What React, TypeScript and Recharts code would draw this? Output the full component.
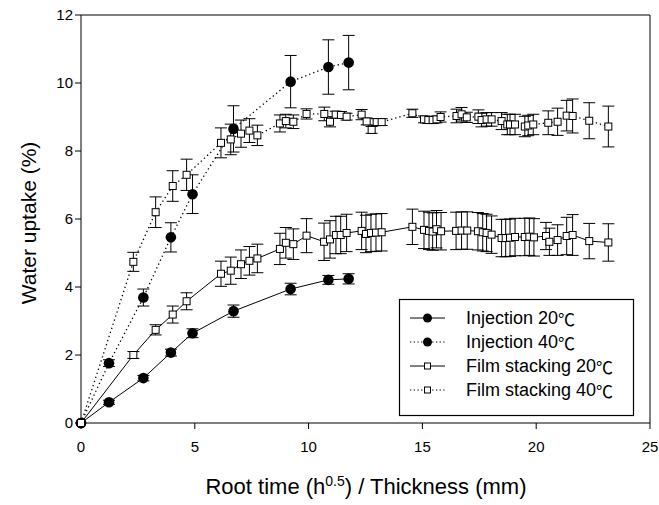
import React from 'react';
import { ScatterChart, Scatter, XAxis, YAxis, ErrorBar, ReferenceLine } from 'recharts';

const FONT = "'Liberation Sans', Arial, 'Noto Sans CJK KR', sans-serif";
const CJK = "'Noto Sans CJK KR', 'Liberation Sans', sans-serif";

const seriesNames = ['Injection 20℃', 'Injection 40℃', 'Film stacking 20℃', 'Film stacking 40℃'];
const xTicks = [0, 5, 10, 15, 20, 25];
const yTicks = [0, 2, 4, 6, 8, 10, 12];

const inj20X = [0, 1.23, 2.74, 3.95, 4.9, 6.7, 9.21, 10.87, 11.76];
const inj20Y = [0, 0.61, 1.32, 2.07, 2.64, 3.29, 3.94, 4.21, 4.24];
const inj20E = [0, 0.06, 0.08, 0.1, 0.13, 0.18, 0.17, 0.13, 0.15];

const inj40X = [0, 1.23, 2.74, 3.95, 4.9, 6.7, 9.21, 10.87, 11.76];
const inj40Y = [0, 1.76, 3.69, 5.46, 6.73, 8.65, 10.04, 10.47, 10.6];
const inj40E = [0, 0.1, 0.25, 0.43, 0.57, 0.68, 0.77, 0.8, 0.8];

const film20X = [0, 2.3, 3.28, 4.03, 4.64, 6.15, 6.58, 7.03, 7.4, 7.75, 8.74, 9.0, 9.33, 9.91, 10.68, 10.94, 11.2, 11.41, 11.67, 12.33, 12.52, 12.74, 12.96, 13.21, 14.56, 15.07, 15.29, 15.45, 15.62, 15.82, 16.48, 16.72, 16.97, 17.44, 17.65, 17.82, 18.04, 18.48, 18.66, 18.85, 19.07, 19.5, 19.7, 19.9, 20.43, 20.58, 20.94, 21.34, 21.6, 22.33, 23.17];
const film20Y = [0, 2.0, 2.74, 3.19, 3.58, 4.39, 4.48, 4.67, 4.77, 4.84, 5.12, 5.3, 5.26, 5.51, 5.33, 5.4, 5.53, 5.53, 5.59, 5.65, 5.56, 5.59, 5.6, 5.61, 5.77, 5.68, 5.65, 5.63, 5.7, 5.64, 5.65, 5.66, 5.66, 5.64, 5.61, 5.59, 5.54, 5.44, 5.44, 5.45, 5.47, 5.47, 5.48, 5.46, 5.5, 5.33, 5.38, 5.5, 5.53, 5.35, 5.31];
const film20E = [0, 0.1, 0.15, 0.25, 0.25, 0.37, 0.4, 0.42, 0.42, 0.42, 0.46, 0.45, 0.45, 0.5, 0.55, 0.55, 0.55, 0.55, 0.55, 0.55, 0.55, 0.55, 0.55, 0.55, 0.52, 0.55, 0.55, 0.55, 0.55, 0.55, 0.55, 0.55, 0.55, 0.55, 0.55, 0.55, 0.55, 0.55, 0.55, 0.55, 0.55, 0.55, 0.55, 0.55, 0.4, 0.4, 0.45, 0.55, 0.6, 0.52, 0.55];

const film40X = [0, 2.3, 3.28, 4.03, 4.64, 6.15, 6.58, 7.03, 7.4, 7.75, 8.74, 9.0, 9.33, 9.91, 10.69, 10.94, 11.19, 11.42, 11.67, 12.33, 12.55, 12.77, 12.99, 13.21, 14.56, 15.07, 15.26, 15.45, 15.62, 15.8, 16.5, 16.72, 16.95, 17.46, 17.6, 17.82, 18.04, 18.48, 18.73, 18.85, 19.07, 19.5, 19.65, 19.87, 20.53, 20.94, 21.34, 21.6, 22.33, 23.17];
const film40Y = [0, 4.74, 6.2, 6.97, 7.3, 8.24, 8.34, 8.51, 8.6, 8.46, 8.81, 8.88, 8.86, 9.09, 9.09, 8.86, 9.07, 9.06, 9.01, 9.07, 8.87, 8.62, 8.85, 8.85, 9.11, 8.93, 8.91, 8.91, 8.93, 9.0, 9.03, 9.08, 8.99, 9.01, 8.91, 8.93, 8.93, 8.88, 8.78, 8.78, 8.78, 8.72, 8.75, 8.78, 8.83, 8.86, 9.04, 9.03, 8.89, 8.72];
const film40E = [0, 0.28, 0.45, 0.45, 0.46, 0.44, 0.45, 0.4, 0.35, 0.3, 0.25, 0.2, 0.2, 0.15, 0.2, 0.15, 0.1, 0.1, 0.1, 0.15, 0.1, 0.1, 0.1, 0.1, 0.12, 0.1, 0.1, 0.1, 0.1, 0.15, 0.2, 0.2, 0.15, 0.2, 0.2, 0.2, 0.2, 0.25, 0.3, 0.3, 0.3, 0.3, 0.3, 0.3, 0.35, 0.4, 0.45, 0.5, 0.53, 0.6];

const build = (xs: number[], ys: number[], es: number[]) => xs.map((x, i) => ({ x, y: ys[i], err: es[i] }));

const inj20 = build(inj20X, inj20Y, inj20E);
const inj40 = build(inj40X, inj40Y, inj40E);
const film20 = build(film20X, film20Y, film20E);
const film40 = build(film40X, film40Y, film40E);

const CircleShape = (p: any) => <circle cx={p.cx} cy={p.cy} r={5.3} fill="#000" />;
const SquareShape = (p: any) => (
  <rect x={p.cx - 3.5} y={p.cy - 3.5} width={7} height={7} fill="#fff" stroke="#000" strokeWidth={1} />
);

const solidLine = { stroke: '#000', strokeWidth: 1 };
const dotLine = { stroke: '#000', strokeWidth: 1.3, strokeDasharray: '1.3 3' };

const XTitle = () => (
  <text x={366} y={494} textAnchor="middle" fontFamily={FONT} fontSize={22} fill="#000">
    <tspan>Root time (h</tspan>
    <tspan dy={-8} fontSize={14}>0.5</tspan>
    <tspan dy={8}>) / Thickness (mm)</tspan>
  </text>
);

const YTitle = () => (
  <text x={28} y={223} transform="rotate(-90, 28, 223)" textAnchor="middle" dominantBaseline="central" fontFamily={FONT} fontSize={21} fill="#000">
    Water uptake (%)
  </text>
);

const legendRows = [
  { name: seriesNames[0], marker: 'circle', dotted: false },
  { name: seriesNames[1], marker: 'circle', dotted: true },
  { name: seriesNames[2], marker: 'square', dotted: false },
  { name: seriesNames[3], marker: 'square', dotted: true },
];

const splitUnit = (s: string) => {
  const idx = s.indexOf('℃');
  return idx >= 0 ? [s.slice(0, idx), s.slice(idx)] : [s, ''];
};

const LegendBox = () => (
  <svg width={659} height={505} style={{ position: 'absolute', left: 0, top: 0, pointerEvents: 'none' }}>
    <rect x={399.5} y={299.5} width={234} height={116} fill="#fff" stroke="#000" strokeWidth={1.2} />
    {legendRows.map((r, i) => {
      const cy = 318 + i * 24;
      const [head, unit] = splitUnit(r.name);
      return (
        <g key={r.name}>
          <line x1={410} y1={cy} x2={445} y2={cy} stroke="#000" strokeWidth={r.dotted ? 1.2 : 1} strokeDasharray={r.dotted ? '1.3 2.4' : undefined} />
          {r.marker === 'circle' ? (
            <circle cx={427.5} cy={cy} r={4.5} fill="#000" />
          ) : (
            <rect x={424.5} y={cy - 3} width={6} height={6} fill="#fff" stroke="#000" strokeWidth={1} />
          )}
          <text x={466} y={cy} dominantBaseline="central" fontFamily={FONT} fontSize={18} fill="#000">
            <tspan>{head}</tspan>
            <tspan fontFamily={CJK} fontSize={17}>{unit}</tspan>
          </text>
        </g>
      );
    })}
  </svg>
);

export default function App() {
  return (
    <div style={{ position: 'absolute', left: 0, top: 0, width: 659, height: 505, background: '#fff' }}>
      <ScatterChart width={659} height={505} margin={{ top: 15, right: 9, bottom: 22, left: 0 }}>
        <XAxis
          type="number"
          dataKey="x"
          domain={[0, 25]}
          ticks={xTicks}
          height={60}
          tickSize={6}
          tickMargin={12}
          axisLine={{ stroke: '#000' }}
          tickLine={{ stroke: '#000' }}
          tick={{ fill: '#000', fontSize: 15, fontFamily: FONT }}
        />
        <YAxis
          type="number"
          dataKey="y"
          domain={[0, 12]}
          ticks={yTicks}
          width={81}
          tickSize={6}
          tickMargin={2}
          axisLine={{ stroke: '#000' }}
          tickLine={{ stroke: '#000' }}
          tick={{ fill: '#000', fontSize: 15, fontFamily: FONT }}
        />
        <ReferenceLine y={12} stroke="#000" />
        <ReferenceLine x={25} stroke="#000" />
        <Scatter name={seriesNames[0]} data={inj20} line={solidLine} shape={CircleShape} isAnimationActive={false}>
          <ErrorBar dataKey="err" direction="y" width={6} stroke="#000" strokeWidth={1} />
        </Scatter>
        <Scatter name={seriesNames[1]} data={inj40} line={dotLine} shape={CircleShape} isAnimationActive={false}>
          <ErrorBar dataKey="err" direction="y" width={6} stroke="#000" strokeWidth={1} />
        </Scatter>
        <Scatter name={seriesNames[2]} data={film20} line={solidLine} shape={SquareShape} isAnimationActive={false}>
          <ErrorBar dataKey="err" direction="y" width={6} stroke="#000" strokeWidth={1} />
        </Scatter>
        <Scatter name={seriesNames[3]} data={film40} line={dotLine} shape={SquareShape} isAnimationActive={false}>
          <ErrorBar dataKey="err" direction="y" width={6} stroke="#000" strokeWidth={1} />
        </Scatter>
      </ScatterChart>
      <svg width={659} height={505} style={{ position: 'absolute', left: 0, top: 0, pointerEvents: 'none' }}>
        <XTitle />
        <YTitle />
      </svg>
      <LegendBox />
    </div>
  );
}
